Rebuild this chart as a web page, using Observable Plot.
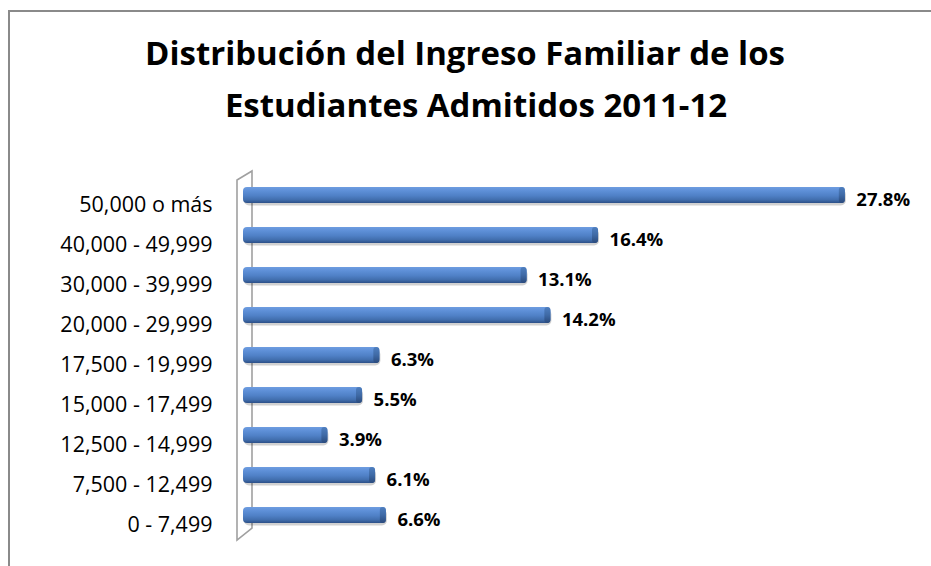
<!DOCTYPE html>
<html>
<head>
<meta charset="utf-8">
<script src="https://cdn.jsdelivr.net/npm/d3@7"></script>
<script src="https://cdn.jsdelivr.net/npm/@observablehq/plot@0.6"></script>
<style>
  html, body { margin: 0; padding: 0; background: #fff; }
  #wrap { position: relative; width: 931px; height: 566px; overflow: hidden; font-family: "Open Sans", sans-serif; }
  #frame { position: absolute; left: 8px; top: 10px; width: 1000px; height: 1000px; border-left: 2px solid #8a8a8a; border-top: 2px solid #8a8a8a; box-sizing: border-box; }
  .tline { position: absolute; white-space: nowrap; font-weight: bold; color: #000; line-height: 1; }
  #chart { position: absolute; left: 0; top: 0; }
</style>
</head>
<body>
<div id="wrap">
  <div id="frame"></div>
  <div id="chart"></div>
  <div class="tline" id="t1"></div>
  <div class="tline" id="t2"></div>
</div>
<script>
const titleLines = ["Distribución del Ingreso Familiar de los", "Estudiantes Admitidos 2011-12"];
const categories = ["50,000 o más", "40,000 - 49,999", "30,000 - 39,999", "20,000 - 29,999", "17,500 - 19,999", "15,000 - 17,499", "12,500 - 14,999", "7,500 - 12,499", "0 - 7,499"];
const values = [27.8, 16.4, 13.1, 14.2, 6.3, 5.5, 3.9, 6.1, 6.6];
const valueLabels = ["27.8%", "16.4%", "13.1%", "14.2%", "6.3%", "5.5%", "3.9%", "6.1%", "6.6%"];

const data = categories.map((c, i) => ({cat: c, v: values[i], label: valueLabels[i]}));

// Title sizing to match reference line widths
const ctx = document.createElement("canvas").getContext("2d");
function fitSize(text, target) {
  ctx.font = 'bold 30px "Open Sans"';
  return 30 * target / ctx.measureText(text).width;
}
const s1 = fitSize(titleLines[0], 640);
const s2 = fitSize(titleLines[1], 533);
const ts = Math.min(s1, s2);
function placeLine(id, text, center, baseline) {
  const el = document.getElementById(id);
  el.textContent = text;
  el.style.fontSize = ts + "px";
  ctx.font = `bold ${ts}px "Open Sans"`;
  const w = ctx.measureText(text).width;
  el.style.left = (center - w / 2) + "px";
  el.style.top = (baseline - 0.888 * ts) + "px";
}
placeLine("t1", titleLines[0], 465, 66);
placeLine("t2", titleLines[1], 476, 118);

function wall(index, scales, values, dim) {
  const x0 = scales.x(0);
  const top = dim.marginTop, bot = dim.height - dim.marginBottom;
  const p = d3.path();
  p.moveTo(x0 - 6, top + 5);
  p.lineTo(x0 - 6, bot + 5);
  p.lineTo(x0 + 9, bot - 7);
  p.lineTo(x0 + 9, top - 4);
  p.closePath();
  return d3.create("svg:path")
    .attr("d", p.toString())
    .attr("fill", "#fff")
    .attr("stroke", "#a0a0a0")
    .attr("stroke-width", 1.6)
    .node();
}

const chart = Plot.plot({
  width: 931,
  height: 566,
  marginTop: 175,
  marginBottom: 31,
  marginLeft: 243,
  marginRight: 38.5,
  style: {background: "transparent", overflow: "visible"},
  x: {domain: [0, 30], axis: null},
  y: {domain: categories, paddingInner: 0.6, paddingOuter: 0.3, axis: null},
  marks: [
    wall,
    Plot.barX(data, {y: "cat", x: "v", fill: "#000", fillOpacity: 0.18, dy: 2.5, dx: 1, rx: 5, ariaLabel: "shadow"}),
    Plot.barX(data, {y: "cat", x: "v", fill: "url(#cyl)", rx: 4}),
    Plot.barX(data, {y: "cat", x1: d => d.v - 0.28, x2: "v", fill: "url(#cap)", rx: 3}),
    Plot.text(data, {y: "cat", x: 0, text: "cat", dx: -31, dy: 9.5, textAnchor: "end", fontSize: 21.5, fill: "#000", fontFamily: "Open Sans"}),
    Plot.text(data, {y: "cat", x: "v", text: "label", dx: 11, dy: 4.5, textAnchor: "start", fontSize: 18.5, fontWeight: "bold", fill: "#000", fontFamily: "Open Sans"})
  ]
});

const defs = d3.select(chart).insert("defs", ":first-child");
const g = defs.append("linearGradient").attr("id", "cyl").attr("x1", 0).attr("y1", 0).attr("x2", 0).attr("y2", 1);
[["0%", "#6e9de0"], ["25%", "#5d8fd7"], ["55%", "#4f80c6"], ["80%", "#416ead"], ["100%", "#2c5088"]].forEach(([o, c]) => g.append("stop").attr("offset", o).attr("stop-color", c));
const gc = defs.append("linearGradient").attr("id", "cap").attr("x1", 0).attr("y1", 0).attr("x2", 0).attr("y2", 1);
[["0%", "#4f7fbf"], ["50%", "#3f6aa6"], ["100%", "#2a4a7c"]].forEach(([o, c]) => gc.append("stop").attr("offset", o).attr("stop-color", c));
const f = defs.append("filter").attr("id", "blur").attr("x", "-10%").attr("y", "-50%").attr("width", "120%").attr("height", "200%");
f.append("feGaussianBlur").attr("stdDeviation", 1.5);
d3.select(chart).selectAll('g[aria-label="shadow"]').attr("filter", "url(#blur)");

document.getElementById("chart").appendChild(chart);
</script>
</body>
</html>
